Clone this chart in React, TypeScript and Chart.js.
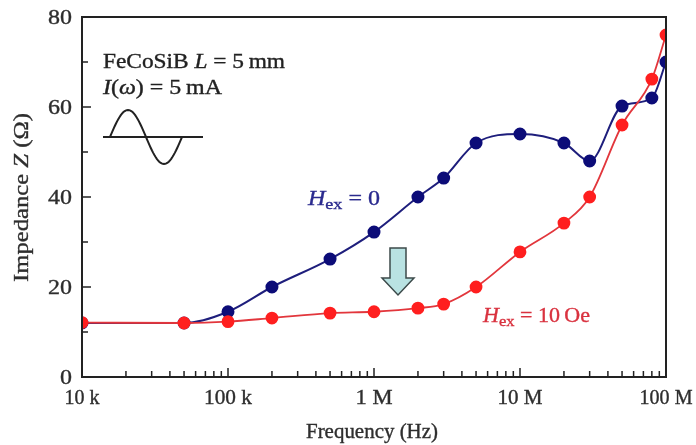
import React, { useEffect, useRef } from "react";
import { Chart, registerables } from "chart.js";

Chart.register(...registerables);

const frequencies = [1e4, 5e4, 1e5, 2e5, 5e5, 1e6, 2e6, 3e6, 5e6, 1e7, 2e7, 3e7, 5e7, 8e7, 1e8];
const zHex0 = [12, 12, 14.5, 20, 26.2, 32.2, 40, 44.2, 52, 54, 52, 48, 60.2, 62, 70];
const zHex10 = [12.1, 12, 12.3, 13.1, 14.2, 14.5, 15.3, 16.2, 20, 27.8, 34.2, 40, 56, 66.2, 76];
const xTickValues = [1e4, 1e5, 1e6, 1e7, 1e8];
const xTickLabels = ["10 k", "100 k", "1 M", "10 M", "100 M"];
const xTickLabelWidths = [35, 48, 37, 45, 53];
const yTickValues = [0, 20, 40, 60, 80];

const SERIF = "'Liberation Serif', 'DejaVu Serif', serif";
const BLUE_LINE = "#1e1e7c";
const BLUE_PT = "#0c0c78";
const RED_LINE = "#e2363c";
const RED_PT = "#ff1f1f";

type Run = [string, string, number?];

function runsWidth(ctx: CanvasRenderingContext2D, runs: Run[]) {
  let w = 0;
  for (const [t, f] of runs) {
    ctx.font = f;
    w += ctx.measureText(t).width;
  }
  return w;
}

// draws runs starting at x (left), stretched horizontally to targetWidth
function drawRuns(ctx: CanvasRenderingContext2D, runs: Run[], x: number, y: number, targetWidth: number, color: string) {
  const nat = runsWidth(ctx, runs);
  const s = targetWidth / nat;
  ctx.save();
  ctx.translate(x, y);
  ctx.scale(s, 1);
  ctx.fillStyle = color;
  ctx.strokeStyle = color;
  ctx.lineWidth = 0.35;
  ctx.textAlign = "left";
  ctx.textBaseline = "alphabetic";
  let cx = 0;
  for (const [t, f, dy] of runs) {
    ctx.font = f;
    ctx.fillText(t, cx, dy || 0);
    ctx.strokeText(t, cx, dy || 0);
    cx += ctx.measureText(t).width;
  }
  ctx.restore();
}

const decorPlugin = {
  id: "decor",
  afterDraw(chart: any) {
    const { ctx, chartArea } = chart;
    const xs = chart.scales.x;
    const ys = chart.scales.y;
    const { left, right, top, bottom } = chartArea;
    ctx.save();
    // box
    ctx.strokeStyle = "#222";
    ctx.lineWidth = 2;
    ctx.beginPath();
    ctx.moveTo(left, top);
    ctx.lineTo(right, top);
    ctx.lineTo(right, bottom);
    ctx.lineTo(left, bottom);
    ctx.closePath();
    ctx.stroke();
    // x ticks (inward)
    ctx.lineWidth = 1.5;
    for (let d = 1e4; d < 1e8; d *= 10) {
      for (let m = 1; m <= 9; m++) {
        const v = d * m;
        const px = xs.getPixelForValue(v);
        const len = m === 1 ? 9 : 6;
        ctx.beginPath();
        ctx.moveTo(px, bottom);
        ctx.lineTo(px, bottom - len);
        ctx.stroke();
      }
    }
    // y ticks (inward)
    for (let v = 0; v <= 80; v += 10) {
      const py = ys.getPixelForValue(v);
      const len = v % 20 === 0 ? 9 : 6;
      ctx.beginPath();
      ctx.moveTo(left, py);
      ctx.lineTo(left + len, py);
      ctx.stroke();
    }
    const R = `20px ${SERIF}`;
    const I = `italic 20px ${SERIF}`;
    const S = `15px ${SERIF}`;
    // tick labels
    xTickValues.forEach((v, i) => {
      const px = xs.getPixelForValue(v);
      const w = xTickLabelWidths[i];
      drawRuns(ctx, [[xTickLabels[i], R]], px - w / 2, 404, w, "#2e2e2e");
    });
    yTickValues.forEach((v) => {
      const py = ys.getPixelForValue(v);
      const t = String(v);
      const w = t.length === 1 ? 12 : 24;
      drawRuns(ctx, [[t, R]], 72 - w, py + 6.5, w, "#2e2e2e");
    });
    // annotations
    drawRuns(ctx, [["FeCoSiB ", R], ["L", I], [" = 5\u2009mm", R]], 103, 68, 182, "#222");
    drawRuns(ctx, [["I", I], ["(", R], ["\u03C9", I], [") = 5\u2009mA", R]], 103, 94, 119, "#222");
    drawRuns(ctx, [["H", I], ["ex", S, 4], [" = 0", R]], 308, 205, 72, "#2b2b8f");
    drawRuns(ctx, [["H", I], ["ex", S, 4], [" = 10\u2009Oe", R]], 483, 322, 107, "#d9323f");
    // sine symbol
    ctx.strokeStyle = "#222";
    ctx.lineWidth = 2;
    ctx.beginPath();
    ctx.moveTo(103, 137);
    ctx.lineTo(203, 137);
    ctx.stroke();
    ctx.beginPath();
    for (let i = 0; i <= 60; i++) {
      const t = i / 60;
      const px = 110 + t * 72;
      const py = 137 - 27 * Math.sin(t * 2 * Math.PI);
      if (i === 0) ctx.moveTo(px, py);
      else ctx.lineTo(px, py);
    }
    ctx.stroke();
    // arrow
    ctx.beginPath();
    ctx.moveTo(390, 248);
    ctx.lineTo(406, 248);
    ctx.lineTo(406, 278);
    ctx.lineTo(414, 278);
    ctx.lineTo(398, 295);
    ctx.lineTo(382, 278);
    ctx.lineTo(390, 278);
    ctx.closePath();
    ctx.fillStyle = "#b9e2e2";
    ctx.fill();
    ctx.strokeStyle = "#3c4a4a";
    ctx.lineWidth = 1.5;
    ctx.stroke();
    // axis titles
    ctx.save();
    ctx.translate(28, 282);
    ctx.rotate(-Math.PI / 2);
    drawRuns(ctx, [["Impedance ", R], ["Z", I], [" (\u03A9)", R]], 0, 0, 169, "#2e2e2e");
    ctx.restore();
    drawRuns(ctx, [["Frequency (Hz)", R]], 306, 438, 132, "#2e2e2e");
    ctx.restore();
  },
};

export default function App() {
  const ref = useRef<HTMLCanvasElement | null>(null);
  useEffect(() => {
    if (!ref.current) return;
    const chart = new Chart(ref.current, {
      type: "line",
      data: {
        datasets: [
          {
            label: "Hex = 10 Oe",
            data: frequencies.map((f, i) => ({ x: f, y: zHex10[i] })),
            borderColor: RED_LINE,
            backgroundColor: RED_PT,
            pointBackgroundColor: RED_PT,
            pointBorderColor: RED_PT,
            pointRadius: 5.5,
            borderWidth: 1.8,
            cubicInterpolationMode: "monotone",
          },
          {
            label: "Hex = 0",
            data: frequencies.map((f, i) => ({ x: f, y: zHex0[i] })),
            borderColor: BLUE_LINE,
            backgroundColor: BLUE_PT,
            pointBackgroundColor: BLUE_PT,
            pointBorderColor: BLUE_PT,
            pointRadius: 5.5,
            borderWidth: 2,
            cubicInterpolationMode: "monotone",
          },
        ],
      },
      options: {
        animation: false,
        responsive: false,
        maintainAspectRatio: false,
        layout: { padding: { top: 17, right: 30, left: 0, bottom: 0 } },
        plugins: { legend: { display: false }, tooltip: { enabled: false } },
        scales: {
          x: {
            type: "logarithmic",
            min: 1e4,
            max: 1e8,
            grid: { display: false },
            border: { display: false },
            afterBuildTicks: (scale: any) => {
              scale.ticks = xTickValues.map((v) => ({ value: v }));
            },
            afterFit: (scale: any) => {
              scale.height = 68;
            },
            ticks: { display: false },
          },
          y: {
            min: 0,
            max: 80,
            grid: { display: false },
            border: { display: false },
            afterBuildTicks: (scale: any) => {
              scale.ticks = yTickValues.map((v) => ({ value: v }));
            },
            afterFit: (scale: any) => {
              scale.width = 82;
            },
            ticks: { display: false },
          },
        },
      },
      plugins: [decorPlugin],
    } as any);
    return () => chart.destroy();
  }, []);
  return (
    <div style={{ position: "fixed", left: 0, top: 0, width: 696, height: 445, background: "#fff" }}>
      <canvas ref={ref} width={696} height={445} style={{ width: 696, height: 445 }} />
    </div>
  );
}
